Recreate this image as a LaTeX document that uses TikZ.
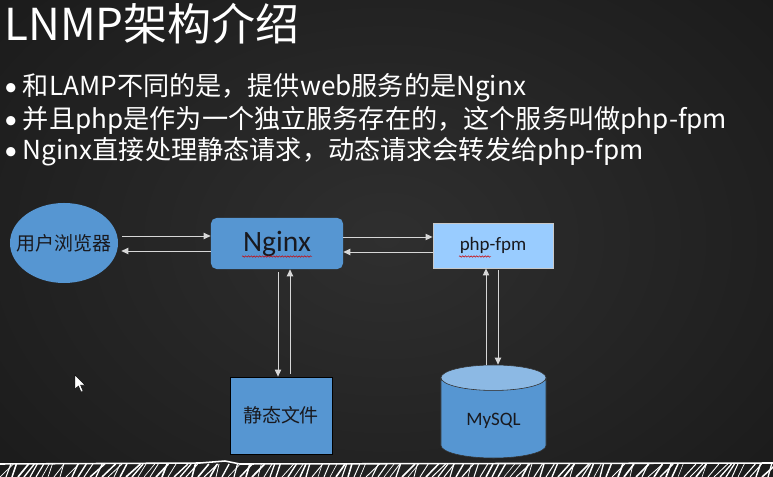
\documentclass[tikz,border=0pt]{standalone}
\usepackage{fontspec}
\setmainfont{Carlito}
\newfontfamily\cjk{Noto Sans CJK SC}
\usetikzlibrary{arrows.meta, calc, shapes.geometric, decorations.pathmorphing}
\definecolor{slidebg}{RGB}{43,43,43}
\definecolor{boxblue}{RGB}{86,150,210}
\definecolor{phpblue}{RGB}{153,204,255}
\definecolor{mysqltop}{RGB}{140,185,228}
\definecolor{wire}{RGB}{215,215,215}

\begin{document}
\begin{tikzpicture}[x=0.025cm, y=-0.025cm,
  conn/.style={draw=wire, line width=0.7pt, -{Triangle[length=5pt,width=4.5pt]}},
  bullet/.style={anchor=west, text=white, inner sep=0pt, font=\cjk\fontsize{18.6}{22}\selectfont},
  boxtext/.style={text={rgb,255:red,25;green,25;blue,30}, font=\fontsize{13.5}{16}\selectfont},
  squiggle/.style={draw=red!80!black, line width=0.35pt, decorate, decoration={snake, amplitude=0.5pt, segment length=2pt}}]
  % background
  \useasboundingbox (0,0) rectangle (773,477);
  \shade[inner color={rgb,255:red,47;green,47;blue,47}, outer color={rgb,255:red,26;green,26;blue,26}] (-150,-150) rectangle (923,627);
  % title and bullets
  \node[anchor=west, text=white, inner sep=0pt, font=\cjk\fontsize{31.3}{35}\selectfont] (title) at (4,24) {LNMP架构介绍};
  \node[bullet] (line1) at (4,88) {{\rmfamily •}\hspace{4pt}和LAMP不同的是，提供web服务的是Nginx};
  \node[bullet] (line2) at (4,120) {{\rmfamily •}\hspace{4pt}并且php是作为一个独立服务存在的，这个服务叫做php-fpm};
  \node[bullet] (line3) at (4,152) {{\rmfamily •}\hspace{4pt}Nginx直接处理静态请求，动态请求会转发给php-fpm};
  % boxes
  \node[ellipse, fill=boxblue, minimum width=2.7cm, minimum height=2cm, inner xsep=-7pt, inner ysep=0pt, boxtext, font=\cjk\fontsize{13.5}{16}\selectfont] (browser) at (64,243) {用户浏览器};
  \node[rectangle, rounded corners=4pt, fill=boxblue, minimum width=3.3cm, minimum height=1.275cm, boxtext, font=\fontsize{21}{24}\selectfont] (nginx) at (277,243.5) {Nginx};
  \node[rectangle, fill=phpblue, draw={rgb,255:red,200;green,200;blue,200}, line width=0.6pt, minimum width=3cm, minimum height=1.125cm, boxtext] (php) at (493,245.5) {php-fpm};
  \node[rectangle, fill=boxblue, draw=black, line width=0.5pt, minimum width=2.55cm, minimum height=1.925cm, boxtext, font=\cjk\fontsize{13.5}{16}\selectfont] (static) at (281,415.5) {静态文件};
  \node[cylinder, shape border rotate=90, aspect=0.4, cylinder uses custom fill, cylinder body fill=boxblue, cylinder end fill=mysqltop, draw=black!80, line width=0.4pt, minimum width=2.625cm, minimum height=2.325cm, boxtext, anchor=shape center] (mysql) at (493.5,411.5) {MySQL};
  % spelling marks
  \draw[squiggle] ($(nginx.center)+(-35,13)$) -- ($(nginx.center)+(35,13)$);
  \draw[squiggle] ($(php.center)+(-34,11)$) -- ($(php.center)+(-2,11)$);
  % connector ends
  \coordinate (b1) at ($(browser.east)+(4,-7)$);
  \coordinate (n1) at ($(nginx.west)+(0,7.5)$);
  \coordinate (n2) at ($(nginx.east)+(0,-6.5)$);
  \coordinate (p1) at ($(php.west)+(0,6.5)$);
  \coordinate (n3) at ($(nginx.south)+(1,3)$);
  \coordinate (s1) at ($(static.north)+(9,-3)$);
  \coordinate (m1) at ($(mysql.north)+(-7.5,0)$);
  \coordinate (p2) at ($(php.south)+(5,2)$);
  % connectors
  \draw[conn] (b1) -- (b1 -| nginx.west);
  \draw[conn] (n1) -- ($(n1 -| browser.east)+(3,0)$);
  \draw[conn] (n2) -- (n2 -| php.west);
  \draw[conn] (p1) -- (p1 -| nginx.east);
  \draw[conn] (n3) -- (n3 |- static.north);
  \draw[conn] (s1) -- (s1 |- nginx.south);
  \draw[conn] (m1) -- (m1 |- php.south);
  \draw[conn] (p2) -- (p2 |- mysql.north);
  % cursor
  \filldraw[fill=white, draw=black, line width=0.3pt] (75,375) -- (75,389) -- (78.5,386) -- (81,392) -- (83,391) -- (80.5,385) -- (85,385) -- cycle;
  % chalk line
  \pgfmathsetseed{7}
  \draw[white, line width=1.1pt] (0,464) -- (200,463) -- (225,461) -- (240,464) -- (773,463);
  \foreach \x in {0,6,...,773} {
    \pgfmathsetmacro{\dx}{3+12*rnd}
    \pgfmathsetmacro{\wd}{0.4+0.8*rnd}
    \draw[white, line width=\wd pt] (\x,477) -- (\x+\dx,464);
  }
\end{tikzpicture}
\end{document}
